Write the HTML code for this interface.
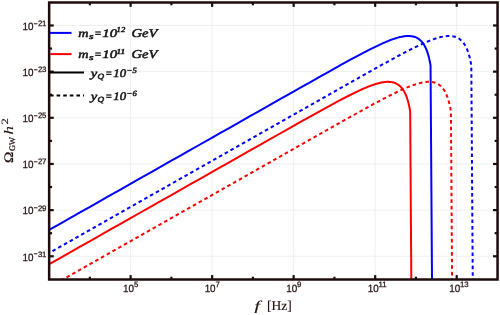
<!DOCTYPE html><html><head><meta charset="utf-8"><style>html,body{margin:0;padding:0;background:#fff}svg{display:block}text{font-family:"Liberation Sans",sans-serif;text-rendering:geometricPrecision}</style></head><body>
<svg width="500" height="315" viewBox="0 0 500 315">
<rect width="500" height="315" fill="#fff"/>
<g stroke="#ebebeb" stroke-width="0.8"><line x1="130.62" y1="4" x2="130.62" y2="278" /><line x1="212.14" y1="4" x2="212.14" y2="278" /><line x1="293.66" y1="4" x2="293.66" y2="278" /><line x1="375.18" y1="4" x2="375.18" y2="278" /><line x1="456.70" y1="4" x2="456.70" y2="278" /><line x1="50" y1="25.48" x2="492" y2="25.48" /><line x1="50" y1="71.64" x2="492" y2="71.64" /><line x1="50" y1="117.80" x2="492" y2="117.80" /><line x1="50" y1="163.96" x2="492" y2="163.96" /><line x1="50" y1="210.12" x2="492" y2="210.12" /><line x1="50" y1="256.28" x2="492" y2="256.28" /></g>
<defs><clipPath id="c"><rect x="49.15" y="2.50" width="448.40" height="277.00"/></clipPath></defs>
<g clip-path="url(#c)" fill="none" stroke-width="2" stroke-linejoin="round">
<path d="M-40.00 280.40 L-30.00 274.73 L-20.00 269.07 L-10.00 263.41 L0.00 257.75 L10.00 252.08 L20.00 246.42 L30.00 240.76 L40.00 235.10 L50.00 229.43 L60.00 223.77 L70.00 218.11 L80.00 212.45 L90.00 206.78 L100.00 201.12 L110.00 195.46 L120.00 189.80 L130.00 184.13 L140.00 178.47 L150.00 172.81 L160.00 167.15 L170.00 161.48 L180.00 155.82 L190.00 150.16 L200.00 144.50 L210.00 138.84 L220.00 133.17 L230.00 127.51 L240.00 121.85 L250.00 116.19 L260.00 110.53 L270.00 104.87 L280.00 99.21 L290.00 93.55 L300.00 87.90 L310.00 82.26 L320.00 76.64 L330.00 71.03 L340.00 65.47 L350.00 59.97 L360.00 54.59 L370.00 49.40 L380.00 44.54 L381.00 44.08 L382.00 43.63 L383.00 43.19 L384.00 42.75 L385.00 42.31 L386.00 41.89 L387.00 41.47 L388.00 41.06 L389.00 40.66 L390.00 40.27 L391.00 39.90 L392.00 39.53 L393.00 39.17 L394.00 38.83 L395.00 38.50 L396.00 38.18 L397.00 37.88 L398.00 37.60 L399.00 37.33 L400.00 37.09 L401.00 36.86 L402.00 36.65 L403.00 36.47 L404.00 36.31 L405.00 36.19 L406.00 36.09 L407.00 36.02 L408.00 35.99 L409.00 35.99 L410.00 36.04 L411.00 36.13 L412.00 36.27 L413.00 36.47 L414.00 36.72 L415.00 37.04 L416.00 37.44 L417.00 37.92 L418.00 38.50 L419.00 39.17 L420.00 39.97 L420.25 40.19 L420.50 40.42 L420.75 40.66 L421.00 40.91 L421.25 41.17 L421.50 41.44 L421.75 41.72 L422.00 42.01 L422.25 42.31 L422.50 42.62 L422.75 42.95 L423.00 43.29 L423.25 43.65 L423.50 44.01 L423.75 44.40 L424.00 44.79 L424.25 45.21 L424.50 45.64 L424.75 46.09 L425.00 46.56 L425.25 47.05 L425.50 47.56 L425.75 48.10 L426.00 48.65 L426.25 49.23 L426.50 49.84 L426.75 50.48 L427.00 51.14 L427.25 51.84 L427.50 52.57 L427.75 53.34 L428.00 54.14 L428.25 54.99 L428.50 55.88 L428.75 56.82 L429.00 57.82 L429.25 58.87 L429.50 59.98 L429.75 61.17 L430.00 62.42 L430.25 63.76 L430.50 65.20 L430.55 65.50 L432.14 300.00" stroke="#0000ff"/>
<path d="M0.76 280.40 L10.76 274.73 L20.76 269.07 L30.76 263.41 L40.76 257.75 L50.76 252.08 L60.76 246.42 L70.76 240.76 L80.76 235.10 L90.76 229.43 L100.76 223.77 L110.76 218.11 L120.76 212.45 L130.76 206.78 L140.76 201.12 L150.76 195.46 L160.76 189.80 L170.76 184.13 L180.76 178.47 L190.76 172.81 L200.76 167.15 L210.76 161.48 L220.76 155.82 L230.76 150.16 L240.76 144.50 L250.76 138.84 L260.76 133.17 L270.76 127.51 L280.76 121.85 L290.76 116.19 L300.76 110.53 L310.76 104.87 L320.76 99.21 L330.76 93.55 L340.76 87.90 L350.76 82.26 L360.76 76.64 L370.76 71.03 L380.76 65.47 L390.76 59.97 L400.76 54.59 L410.76 49.40 L420.76 44.54 L421.76 44.08 L422.76 43.63 L423.76 43.19 L424.76 42.75 L425.76 42.31 L426.76 41.89 L427.76 41.47 L428.76 41.06 L429.76 40.66 L430.76 40.27 L431.76 39.90 L432.76 39.53 L433.76 39.17 L434.76 38.83 L435.76 38.50 L436.76 38.18 L437.76 37.88 L438.76 37.60 L439.76 37.33 L440.76 37.09 L441.76 36.86 L442.76 36.65 L443.76 36.47 L444.76 36.31 L445.76 36.19 L446.76 36.09 L447.76 36.02 L448.76 35.99 L449.76 35.99 L450.76 36.04 L451.76 36.13 L452.76 36.27 L453.76 36.47 L454.76 36.72 L455.76 37.04 L456.76 37.44 L457.76 37.92 L458.76 38.50 L459.76 39.17 L460.76 39.97 L461.01 40.19 L461.26 40.42 L461.51 40.66 L461.76 40.91 L462.01 41.17 L462.26 41.44 L462.51 41.72 L462.76 42.01 L463.01 42.31 L463.26 42.62 L463.51 42.95 L463.76 43.29 L464.01 43.65 L464.26 44.01 L464.51 44.40 L464.76 44.79 L465.01 45.21 L465.26 45.64 L465.51 46.09 L465.76 46.56 L466.01 47.05 L466.26 47.56 L466.51 48.10 L466.76 48.65 L467.01 49.23 L467.26 49.84 L467.51 50.48 L467.76 51.14 L468.01 51.84 L468.26 52.57 L468.51 53.34 L468.76 54.14 L469.01 54.99 L469.26 55.88 L469.51 56.82 L469.76 57.82 L470.01 58.87 L470.26 59.98 L470.51 61.17 L470.76 62.42 L471.01 63.76 L471.26 65.20 L471.31 65.50 L472.90 300.00" stroke="#0000ff" stroke-dasharray="3.6 3"/>
<path d="M-60.38 326.25 L-50.38 320.58 L-40.38 314.92 L-30.38 309.26 L-20.38 303.60 L-10.38 297.93 L-0.38 292.27 L9.62 286.61 L19.62 280.95 L29.62 275.28 L39.62 269.62 L49.62 263.96 L59.62 258.30 L69.62 252.63 L79.62 246.97 L89.62 241.31 L99.62 235.65 L109.62 229.98 L119.62 224.32 L129.62 218.66 L139.62 213.00 L149.62 207.33 L159.62 201.67 L169.62 196.01 L179.62 190.35 L189.62 184.69 L199.62 179.02 L209.62 173.36 L219.62 167.70 L229.62 162.04 L239.62 156.38 L249.62 150.72 L259.62 145.06 L269.62 139.40 L279.62 133.75 L289.62 128.11 L299.62 122.49 L309.62 116.88 L319.62 111.32 L329.62 105.82 L339.62 100.44 L349.62 95.25 L359.62 90.39 L360.62 89.93 L361.62 89.48 L362.62 89.04 L363.62 88.60 L364.62 88.16 L365.62 87.74 L366.62 87.32 L367.62 86.91 L368.62 86.51 L369.62 86.12 L370.62 85.75 L371.62 85.38 L372.62 85.02 L373.62 84.68 L374.62 84.35 L375.62 84.03 L376.62 83.73 L377.62 83.45 L378.62 83.18 L379.62 82.94 L380.62 82.71 L381.62 82.50 L382.62 82.32 L383.62 82.16 L384.62 82.04 L385.62 81.94 L386.62 81.87 L387.62 81.84 L388.62 81.84 L389.62 81.89 L390.62 81.98 L391.62 82.12 L392.62 82.32 L393.62 82.57 L394.62 82.89 L395.62 83.29 L396.62 83.77 L397.62 84.35 L398.62 85.02 L399.62 85.82 L399.87 86.04 L400.12 86.27 L400.37 86.51 L400.62 86.76 L400.87 87.02 L401.12 87.29 L401.37 87.57 L401.62 87.86 L401.87 88.16 L402.12 88.47 L402.37 88.80 L402.62 89.14 L402.87 89.50 L403.12 89.86 L403.37 90.25 L403.62 90.64 L403.87 91.06 L404.12 91.49 L404.37 91.94 L404.62 92.41 L404.87 92.90 L405.12 93.41 L405.37 93.95 L405.62 94.50 L405.87 95.08 L406.12 95.69 L406.37 96.33 L406.62 96.99 L406.87 97.69 L407.12 98.42 L407.37 99.19 L407.62 99.99 L407.87 100.84 L408.12 101.73 L408.37 102.67 L408.62 103.67 L408.87 104.72 L409.12 105.83 L409.37 107.02 L409.62 108.27 L409.87 109.61 L410.12 111.05 L410.17 111.35 L411.76 345.85" stroke="#ff0000"/>
<path d="M-19.62 326.25 L-9.62 320.58 L0.38 314.92 L10.38 309.26 L20.38 303.60 L30.38 297.93 L40.38 292.27 L50.38 286.61 L60.38 280.95 L70.38 275.28 L80.38 269.62 L90.38 263.96 L100.38 258.30 L110.38 252.63 L120.38 246.97 L130.38 241.31 L140.38 235.65 L150.38 229.98 L160.38 224.32 L170.38 218.66 L180.38 213.00 L190.38 207.33 L200.38 201.67 L210.38 196.01 L220.38 190.35 L230.38 184.69 L240.38 179.02 L250.38 173.36 L260.38 167.70 L270.38 162.04 L280.38 156.38 L290.38 150.72 L300.38 145.06 L310.38 139.40 L320.38 133.75 L330.38 128.11 L340.38 122.49 L350.38 116.88 L360.38 111.32 L370.38 105.82 L380.38 100.44 L390.38 95.25 L400.38 90.39 L401.38 89.93 L402.38 89.48 L403.38 89.04 L404.38 88.60 L405.38 88.16 L406.38 87.74 L407.38 87.32 L408.38 86.91 L409.38 86.51 L410.38 86.12 L411.38 85.75 L412.38 85.38 L413.38 85.02 L414.38 84.68 L415.38 84.35 L416.38 84.03 L417.38 83.73 L418.38 83.45 L419.38 83.18 L420.38 82.94 L421.38 82.71 L422.38 82.50 L423.38 82.32 L424.38 82.16 L425.38 82.04 L426.38 81.94 L427.38 81.87 L428.38 81.84 L429.38 81.84 L430.38 81.89 L431.38 81.98 L432.38 82.12 L433.38 82.32 L434.38 82.57 L435.38 82.89 L436.38 83.29 L437.38 83.77 L438.38 84.35 L439.38 85.02 L440.38 85.82 L440.63 86.04 L440.88 86.27 L441.13 86.51 L441.38 86.76 L441.63 87.02 L441.88 87.29 L442.13 87.57 L442.38 87.86 L442.63 88.16 L442.88 88.47 L443.13 88.80 L443.38 89.14 L443.63 89.50 L443.88 89.86 L444.13 90.25 L444.38 90.64 L444.63 91.06 L444.88 91.49 L445.13 91.94 L445.38 92.41 L445.63 92.90 L445.88 93.41 L446.13 93.95 L446.38 94.50 L446.63 95.08 L446.88 95.69 L447.13 96.33 L447.38 96.99 L447.63 97.69 L447.88 98.42 L448.13 99.19 L448.38 99.99 L448.63 100.84 L448.88 101.73 L449.13 102.67 L449.38 103.67 L449.63 104.72 L449.88 105.83 L450.13 107.02 L450.38 108.27 L450.63 109.61 L450.88 111.05 L450.93 111.35 L452.52 345.85" stroke="#ff0000" stroke-dasharray="3.6 3"/>
</g>
<g stroke="#1f0b0b" stroke-width="2.2"><line x1="89.86" y1="279.50" x2="89.86" y2="276.70"/><line x1="89.86" y1="2.50" x2="89.86" y2="5.30"/><line x1="130.62" y1="279.50" x2="130.62" y2="275.10"/><line x1="130.62" y1="2.50" x2="130.62" y2="6.90"/><line x1="171.38" y1="279.50" x2="171.38" y2="276.70"/><line x1="171.38" y1="2.50" x2="171.38" y2="5.30"/><line x1="212.14" y1="279.50" x2="212.14" y2="275.10"/><line x1="212.14" y1="2.50" x2="212.14" y2="6.90"/><line x1="252.90" y1="279.50" x2="252.90" y2="276.70"/><line x1="252.90" y1="2.50" x2="252.90" y2="5.30"/><line x1="293.66" y1="279.50" x2="293.66" y2="275.10"/><line x1="293.66" y1="2.50" x2="293.66" y2="6.90"/><line x1="334.42" y1="279.50" x2="334.42" y2="276.70"/><line x1="334.42" y1="2.50" x2="334.42" y2="5.30"/><line x1="375.18" y1="279.50" x2="375.18" y2="275.10"/><line x1="375.18" y1="2.50" x2="375.18" y2="6.90"/><line x1="415.94" y1="279.50" x2="415.94" y2="276.70"/><line x1="415.94" y1="2.50" x2="415.94" y2="5.30"/><line x1="456.70" y1="279.50" x2="456.70" y2="275.10"/><line x1="456.70" y1="2.50" x2="456.70" y2="6.90"/><line x1="49.15" y1="25.48" x2="53.75" y2="25.48"/><line x1="497.55" y1="25.48" x2="492.95" y2="25.48"/><line x1="49.15" y1="48.56" x2="52.05" y2="48.56"/><line x1="497.55" y1="48.56" x2="494.65" y2="48.56"/><line x1="49.15" y1="71.64" x2="53.75" y2="71.64"/><line x1="497.55" y1="71.64" x2="492.95" y2="71.64"/><line x1="49.15" y1="94.72" x2="52.05" y2="94.72"/><line x1="497.55" y1="94.72" x2="494.65" y2="94.72"/><line x1="49.15" y1="117.80" x2="53.75" y2="117.80"/><line x1="497.55" y1="117.80" x2="492.95" y2="117.80"/><line x1="49.15" y1="140.88" x2="52.05" y2="140.88"/><line x1="497.55" y1="140.88" x2="494.65" y2="140.88"/><line x1="49.15" y1="163.96" x2="53.75" y2="163.96"/><line x1="497.55" y1="163.96" x2="492.95" y2="163.96"/><line x1="49.15" y1="187.04" x2="52.05" y2="187.04"/><line x1="497.55" y1="187.04" x2="494.65" y2="187.04"/><line x1="49.15" y1="210.12" x2="53.75" y2="210.12"/><line x1="497.55" y1="210.12" x2="492.95" y2="210.12"/><line x1="49.15" y1="233.20" x2="52.05" y2="233.20"/><line x1="497.55" y1="233.20" x2="494.65" y2="233.20"/><line x1="49.15" y1="256.28" x2="53.75" y2="256.28"/><line x1="497.55" y1="256.28" x2="492.95" y2="256.28"/></g>
<rect x="49.15" y="2.50" width="448.40" height="277.00" fill="none" stroke="#1f0b0b" stroke-width="2.5"/>
<line x1="50" y1="32.9" x2="71.5" y2="32.9" stroke="#0000ff" stroke-width="2"/>
<line x1="50" y1="54.1" x2="71.5" y2="54.1" stroke="#ff0000" stroke-width="2"/>
<line x1="50" y1="72.4" x2="84" y2="72.4" stroke="#000" stroke-width="2"/>
<line x1="50" y1="95.4" x2="84" y2="95.4" stroke="#000" stroke-width="2" stroke-dasharray="3.6 3"/>
<defs><filter id="ga" x="0" y="0" width="500" height="315" filterUnits="userSpaceOnUse"><feOffset dx="0" dy="0"/></filter></defs><g filter="url(#ga)">
<text x="33.5" y="29.83" font-size="10.5" text-anchor="end" textLength="11" lengthAdjust="spacingAndGlyphs" fill="#24100f" stroke="#24100f" stroke-width="0.25">10</text>
<text x="33.8" y="25.88" font-size="7.8" letter-spacing="-0.25" fill="#24100f" stroke="#24100f" stroke-width="0.25"><tspan font-size="6.6" dy="-0.35" stroke-width="0.4">−</tspan><tspan dy="0.35" dx="0.5">21</tspan></text>
<text x="33.5" y="75.99" font-size="10.5" text-anchor="end" textLength="11" lengthAdjust="spacingAndGlyphs" fill="#24100f" stroke="#24100f" stroke-width="0.25">10</text>
<text x="33.8" y="72.04" font-size="7.8" letter-spacing="-0.25" fill="#24100f" stroke="#24100f" stroke-width="0.25"><tspan font-size="6.6" dy="-0.35" stroke-width="0.4">−</tspan><tspan dy="0.35" dx="0.5">23</tspan></text>
<text x="33.5" y="122.15" font-size="10.5" text-anchor="end" textLength="11" lengthAdjust="spacingAndGlyphs" fill="#24100f" stroke="#24100f" stroke-width="0.25">10</text>
<text x="33.8" y="118.20" font-size="7.8" letter-spacing="-0.25" fill="#24100f" stroke="#24100f" stroke-width="0.25"><tspan font-size="6.6" dy="-0.35" stroke-width="0.4">−</tspan><tspan dy="0.35" dx="0.5">25</tspan></text>
<text x="33.5" y="168.31" font-size="10.5" text-anchor="end" textLength="11" lengthAdjust="spacingAndGlyphs" fill="#24100f" stroke="#24100f" stroke-width="0.25">10</text>
<text x="33.8" y="164.36" font-size="7.8" letter-spacing="-0.25" fill="#24100f" stroke="#24100f" stroke-width="0.25"><tspan font-size="6.6" dy="-0.35" stroke-width="0.4">−</tspan><tspan dy="0.35" dx="0.5">27</tspan></text>
<text x="33.5" y="214.47" font-size="10.5" text-anchor="end" textLength="11" lengthAdjust="spacingAndGlyphs" fill="#24100f" stroke="#24100f" stroke-width="0.25">10</text>
<text x="33.8" y="210.52" font-size="7.8" letter-spacing="-0.25" fill="#24100f" stroke="#24100f" stroke-width="0.25"><tspan font-size="6.6" dy="-0.35" stroke-width="0.4">−</tspan><tspan dy="0.35" dx="0.5">29</tspan></text>
<text x="33.5" y="260.63" font-size="10.5" text-anchor="end" textLength="11" lengthAdjust="spacingAndGlyphs" fill="#24100f" stroke="#24100f" stroke-width="0.25">10</text>
<text x="33.8" y="256.68" font-size="7.8" letter-spacing="-0.25" fill="#24100f" stroke="#24100f" stroke-width="0.25"><tspan font-size="6.6" dy="-0.35" stroke-width="0.4">−</tspan><tspan dy="0.35" dx="0.5">31</tspan></text>
<text x="134.12" y="292.3" font-size="10.5" text-anchor="end" textLength="11" lengthAdjust="spacingAndGlyphs" fill="#24100f" stroke="#24100f" stroke-width="0.25">10</text>
<text x="133.92" y="287.2" font-size="7.8" fill="#24100f" stroke="#24100f" stroke-width="0.25">5</text>
<text x="215.64" y="292.3" font-size="10.5" text-anchor="end" textLength="11" lengthAdjust="spacingAndGlyphs" fill="#24100f" stroke="#24100f" stroke-width="0.25">10</text>
<text x="215.44" y="287.2" font-size="7.8" fill="#24100f" stroke="#24100f" stroke-width="0.25">7</text>
<text x="297.16" y="292.3" font-size="10.5" text-anchor="end" textLength="11" lengthAdjust="spacingAndGlyphs" fill="#24100f" stroke="#24100f" stroke-width="0.25">10</text>
<text x="296.96" y="287.2" font-size="7.8" fill="#24100f" stroke="#24100f" stroke-width="0.25">9</text>
<text x="378.68" y="292.3" font-size="10.5" text-anchor="end" textLength="11" lengthAdjust="spacingAndGlyphs" fill="#24100f" stroke="#24100f" stroke-width="0.25">10</text>
<text x="378.48" y="287.2" font-size="7.8" fill="#24100f" stroke="#24100f" stroke-width="0.25">11</text>
<text x="460.20" y="292.3" font-size="10.5" text-anchor="end" textLength="11" lengthAdjust="spacingAndGlyphs" fill="#24100f" stroke="#24100f" stroke-width="0.25">10</text>
<text x="460.00" y="287.2" font-size="7.8" fill="#24100f" stroke="#24100f" stroke-width="0.25">13</text>
<text x="254.6" y="310.4" font-size="13.5" fill="#24100f" stroke="#24100f" stroke-width="0.15" font-style="italic" textLength="5.5" lengthAdjust="spacingAndGlyphs" style="font-family:'Liberation Serif',serif">f</text>
<text x="267" y="310.4" font-size="13.5" fill="#24100f" stroke="#24100f" stroke-width="0.15" style="font-family:'Liberation Serif',serif">[Hz]</text>
<g transform="translate(12.5,163.0) rotate(-90)" fill="#24100f" stroke="#24100f" stroke-width="0.25"><text x="0" y="0" font-size="13" textLength="11.3" lengthAdjust="spacingAndGlyphs" style="font-family:'Liberation Serif',serif">Ω</text><text x="12.0" y="2.5" font-size="8.4" style="font-family:'Liberation Serif',serif">GW</text><text x="28.6" y="0" font-size="13" stroke-width="0.08" font-style="italic" textLength="8.4" lengthAdjust="spacingAndGlyphs" style="font-family:'Liberation Serif',serif">h</text><text x="38.4" y="-5.0" font-size="9.6" stroke-width="0.12" textLength="6.4" lengthAdjust="spacingAndGlyphs" style="font-family:'Liberation Serif',serif">2</text></g>
<text x="78.2" y="36.80" font-size="11.5" textLength="10.3" lengthAdjust="spacingAndGlyphs" style="font-family:'Liberation Serif',serif" font-style="italic" fill="#161616" stroke="#161616" stroke-width="0.5">m</text><text x="89" y="39.00" font-size="8" textLength="4.5" lengthAdjust="spacingAndGlyphs" style="font-family:'Liberation Serif',serif" font-style="italic" fill="#161616" stroke="#161616" stroke-width="0.5">s</text><text x="94.3" y="36.80" font-size="11.5" textLength="7.4" lengthAdjust="spacingAndGlyphs" style="font-family:'Liberation Serif',serif" font-style="italic" fill="#161616" stroke="#161616" stroke-width="0.5">=</text><text x="102.3" y="36.80" font-size="11.5" textLength="14.8" lengthAdjust="spacingAndGlyphs" style="font-family:'Liberation Serif',serif" font-style="italic" fill="#161616" stroke="#161616" stroke-width="0.5">10</text><text x="116.6" y="32.30" font-size="7.6" textLength="8.6" lengthAdjust="spacingAndGlyphs" style="font-family:'Liberation Serif',serif" font-style="italic" fill="#161616" stroke="#161616" stroke-width="0.5">12</text><text x="131.5" y="36.80" font-size="12" textLength="26" lengthAdjust="spacingAndGlyphs" style="font-family:'Liberation Serif',serif" font-style="italic" fill="#161616" stroke="#161616" stroke-width="0.5">GeV</text>
<text x="78.2" y="58.00" font-size="11.5" textLength="10.3" lengthAdjust="spacingAndGlyphs" style="font-family:'Liberation Serif',serif" font-style="italic" fill="#161616" stroke="#161616" stroke-width="0.5">m</text><text x="89" y="60.20" font-size="8" textLength="4.5" lengthAdjust="spacingAndGlyphs" style="font-family:'Liberation Serif',serif" font-style="italic" fill="#161616" stroke="#161616" stroke-width="0.5">s</text><text x="94.3" y="58.00" font-size="11.5" textLength="7.4" lengthAdjust="spacingAndGlyphs" style="font-family:'Liberation Serif',serif" font-style="italic" fill="#161616" stroke="#161616" stroke-width="0.5">=</text><text x="102.3" y="58.00" font-size="11.5" textLength="14.8" lengthAdjust="spacingAndGlyphs" style="font-family:'Liberation Serif',serif" font-style="italic" fill="#161616" stroke="#161616" stroke-width="0.5">10</text><text x="116.6" y="53.50" font-size="7.6" textLength="8.6" lengthAdjust="spacingAndGlyphs" style="font-family:'Liberation Serif',serif" font-style="italic" fill="#161616" stroke="#161616" stroke-width="0.5">11</text><text x="131.5" y="58.00" font-size="12" textLength="26" lengthAdjust="spacingAndGlyphs" style="font-family:'Liberation Serif',serif" font-style="italic" fill="#161616" stroke="#161616" stroke-width="0.5">GeV</text>
<text x="90.8" y="76.90" font-size="11.5" textLength="6.5" lengthAdjust="spacingAndGlyphs" style="font-family:'Liberation Serif',serif" font-style="italic" fill="#161616" stroke="#161616" stroke-width="0.5">y</text><text x="97.4" y="79.10" font-size="8" textLength="6.6" lengthAdjust="spacingAndGlyphs" style="font-family:'Liberation Serif',serif" font-style="italic" fill="#161616" stroke="#161616" stroke-width="0.5">Q</text><text x="105.2" y="76.90" font-size="11.5" textLength="7" lengthAdjust="spacingAndGlyphs" style="font-family:'Liberation Serif',serif" font-style="italic" fill="#161616" stroke="#161616" stroke-width="0.5">=</text><text x="113.3" y="76.90" font-size="11.5" textLength="12.8" lengthAdjust="spacingAndGlyphs" style="font-family:'Liberation Serif',serif" font-style="italic" fill="#161616" stroke="#161616" stroke-width="0.5">10</text><text x="126.6" y="72.70" font-size="8" textLength="10.2" lengthAdjust="spacingAndGlyphs" style="font-family:'Liberation Serif',serif" font-style="italic" fill="#161616" stroke="#161616" stroke-width="0.5">−5</text>
<text x="90.8" y="99.70" font-size="11.5" textLength="6.5" lengthAdjust="spacingAndGlyphs" style="font-family:'Liberation Serif',serif" font-style="italic" fill="#161616" stroke="#161616" stroke-width="0.5">y</text><text x="97.4" y="101.90" font-size="8" textLength="6.6" lengthAdjust="spacingAndGlyphs" style="font-family:'Liberation Serif',serif" font-style="italic" fill="#161616" stroke="#161616" stroke-width="0.5">Q</text><text x="105.2" y="99.70" font-size="11.5" textLength="7" lengthAdjust="spacingAndGlyphs" style="font-family:'Liberation Serif',serif" font-style="italic" fill="#161616" stroke="#161616" stroke-width="0.5">=</text><text x="113.3" y="99.70" font-size="11.5" textLength="12.8" lengthAdjust="spacingAndGlyphs" style="font-family:'Liberation Serif',serif" font-style="italic" fill="#161616" stroke="#161616" stroke-width="0.5">10</text><text x="126.6" y="95.50" font-size="8" textLength="10.2" lengthAdjust="spacingAndGlyphs" style="font-family:'Liberation Serif',serif" font-style="italic" fill="#161616" stroke="#161616" stroke-width="0.5">−6</text>
</g>
</svg></body></html>
